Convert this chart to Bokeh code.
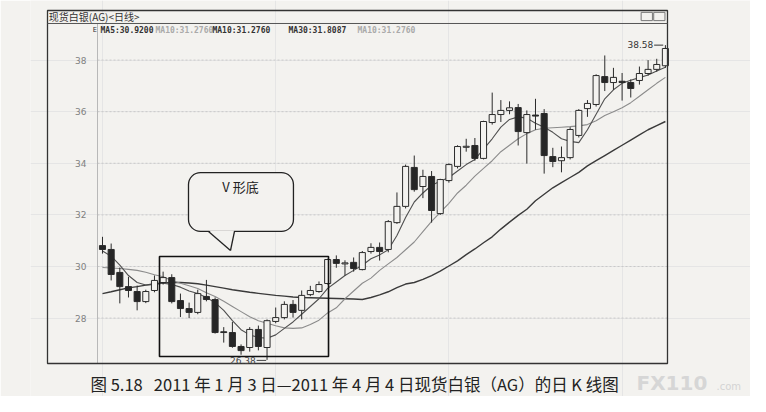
from bokeh.plotting import figure
from bokeh.models import (Range1d, LinearAxis, FixedTicker, Label, BoxAnnotation,
                          PolyAnnotation, Arrow, ColumnDataSource)
from bokeh.embed import file_html
from bokeh.resources import INLINE

# ---------------- data ----------------
day_index = list(range(66))  # trading days 2011-01-03 .. 2011-04-04

opens = [30.81, 30.66, 29.77, 29.22, 29.03, 28.64, 29.07, 29.38, 29.57, 28.68,
         28.37, 28.22, 28.84, 28.72, 27.47, 27.44, 26.90, 26.86, 27.56, 26.86,
         27.87, 28.02, 28.53, 28.30, 28.91, 29.03, 29.34, 30.27, 30.10, 30.16,
         29.88, 30.58, 30.74, 30.66, 31.70, 32.33, 33.84, 33.10, 33.49, 32.05,
         33.33, 33.88, 34.62, 34.69, 34.19, 35.58, 35.89, 36.05, 36.16, 35.19,
         35.87, 35.93, 34.26, 34.10, 34.22, 35.08, 36.12, 36.28, 37.36, 37.13,
         37.18, 37.13, 37.21, 37.48, 37.64, 37.78]
closes = [30.66, 29.69, 29.22, 29.07, 28.64, 29.03, 29.46, 29.57, 28.64, 28.37,
          28.22, 28.95, 28.72, 27.44, 27.44, 26.90, 26.74, 27.56, 26.90, 27.90,
          28.02, 28.53, 28.22, 28.88, 29.07, 29.30, 30.27, 30.12, 30.14, 29.92,
          30.54, 30.74, 30.58, 31.74, 32.33, 33.88, 32.98, 33.49, 32.17, 33.37,
          33.95, 34.65, 34.66, 34.19, 35.62, 35.89, 36.05, 36.15, 35.23, 35.89,
          35.83, 34.30, 34.07, 34.22, 35.31, 36.05, 36.32, 37.40, 37.13, 37.33,
          37.13, 36.90, 37.48, 37.64, 37.83, 38.45]
highs = [31.15, 30.89, 29.96, 29.60, 29.26, 29.10, 29.65, 29.80, 29.70, 28.95,
         28.60, 29.10, 29.48, 28.80, 27.65, 27.85, 26.98, 27.65, 27.71, 27.95,
         28.41, 28.65, 28.70, 29.07, 29.25, 29.42, 30.30, 30.43, 30.24, 30.35,
         30.60, 30.90, 30.93, 31.80, 32.87, 33.95, 34.30, 33.75, 33.70, 33.40,
         34.00, 34.70, 34.95, 34.98, 35.65, 36.74, 36.45, 36.40, 36.30, 36.05,
         36.50, 36.10, 34.60, 34.65, 35.40, 36.10, 36.45, 37.45, 38.18, 37.70,
         37.50, 37.25, 37.75, 38.00, 38.05, 38.58]
lows = [30.50, 29.46, 28.57, 28.80, 28.30, 28.58, 29.00, 29.30, 28.57, 28.04,
        28.00, 28.15, 28.65, 27.40, 27.05, 26.85, 26.58, 26.70, 26.75, 26.38,
        27.80, 27.95, 28.02, 27.95, 28.85, 28.98, 29.30, 29.95, 29.65, 29.80,
        29.85, 30.50, 30.23, 30.55, 31.65, 32.25, 32.90, 32.65, 31.70, 32.00,
        33.25, 33.80, 34.45, 34.10, 34.15, 35.50, 35.60, 35.90, 34.69, 33.99,
        35.30, 33.60, 33.85, 33.65, 34.15, 35.00, 35.80, 36.20, 36.80, 36.85,
        36.43, 36.55, 37.05, 37.40, 37.55, 37.70]

ma5 = [30.60, 30.40, 30.05, 29.65, 29.38, 29.28, 29.30, 29.35, 29.30, 29.20,
       29.05, 28.95, 28.80, 28.60, 28.30, 27.90, 27.55, 27.35, 27.25, 27.22,
       27.35, 27.60, 27.85, 28.15, 28.45, 28.75, 29.15, 29.40, 29.65, 29.85,
       30.05, 30.30, 30.45, 30.65, 31.20, 31.90, 32.50, 32.85, 33.15, 33.30,
       33.45, 33.70, 33.95, 34.15, 34.55, 34.95, 35.40, 35.70, 35.80, 35.75,
       35.55, 35.40, 35.20, 34.95, 34.85, 34.80, 35.30, 35.90, 36.50, 36.85,
       37.10, 37.22, 37.32, 37.42, 37.58, 37.72]
ma10 = [29.96, 29.94, 29.92, 29.89, 29.85, 29.78, 29.68, 29.60, 29.46, 29.35,
        29.25, 29.15, 28.98, 28.84, 28.65, 28.45, 28.25, 28.05, 27.90, 27.80,
        27.70, 27.62, 27.60, 27.62, 27.75, 27.92, 28.20, 28.40, 28.75, 29.05,
        29.35, 29.55, 29.85, 30.10, 30.35, 30.65, 30.95, 31.35, 31.75, 32.10,
        32.45, 32.85, 33.15, 33.50, 33.80, 34.10, 34.45, 34.70, 34.95, 35.15,
        35.30, 35.36, 35.38, 35.40, 35.42, 35.45, 35.50, 35.65, 35.85, 36.00,
        36.15, 36.35, 36.60, 36.85, 37.10, 37.33]
ma30 = [28.95, 29.02, 29.10, 29.17, 29.22, 29.28, 29.33, 29.36, 29.38, 29.38,
        29.36, 29.33, 29.28, 29.22, 29.16, 29.10, 29.05, 29.00, 28.96, 28.92,
        28.88, 28.85, 28.82, 28.80, 28.79, 28.78, 28.77, 28.76, 28.75, 28.74,
        28.72, 28.80, 28.90, 29.02, 29.18, 29.32, 29.38, 29.50, 29.65, 29.82,
        30.02, 30.22, 30.46, 30.68, 30.92, 31.15, 31.45, 31.72, 31.98, 32.22,
        32.55, 32.80, 33.05, 33.25, 33.45, 33.65, 33.90, 34.10, 34.30, 34.50,
        34.70, 34.90, 35.10, 35.30, 35.46, 35.62]

y_ticks = [28, 30, 32, 34, 36, 38]
low_label = "26.38"
high_label = "38.58"
legend_items = ["MA5:30.9200", "MA10:31.2760", "MA10:31.2760", "MA30:31.8087", "MA10:31.2760"]
title_text = "现货白银(AG)<日线>"
bubble_text = "V 形底"
caption = "图 5.18\u00a0\u00a0\u00a02011 年 1 月 3 日—2011 年 4 月 4 日现货白银（AG）的日 K 线图"

# ---------------- layout / styling ----------------
PAPER = "#f3f2ef"
INK = "#2b2b2b"
X_LEFT, X_RIGHT = -8.314, 74.827     # visible day-index span of the canvas frame
Y_BOT, Y_TOP = 24.961, 40.310        # visible price span of the canvas frame
BOX_L, BOX_R = -6.351, 65.242        # chart window edges (day units)
BOX_T, BOX_B = 39.922, 26.240        # chart window edges (price units)
AXIS_X = -0.577                      # where the price axis sits
BAR_Y = 39.419                       # title bar divider

up_idx = [i for i in day_index if closes[i] >= opens[i]]
dn_idx = [i for i in day_index if closes[i] < opens[i]]
src_up = ColumnDataSource(dict(x=up_idx,
                               top=[closes[i] for i in up_idx],
                               bottom=[opens[i] for i in up_idx]))
src_dn = ColumnDataSource(dict(x=dn_idx,
                               top=[opens[i] for i in dn_idx],
                               bottom=[closes[i] for i in dn_idx]))
src_all = ColumnDataSource(dict(x=day_index, high=highs, low=lows,
                                ma5=ma5, ma10=ma10, ma30=ma30))

p = figure(width=750, height=396,
           x_range=Range1d(X_LEFT, X_RIGHT), y_range=Range1d(Y_BOT, Y_TOP),
           output_backend="svg", toolbar_location=None,
           x_axis_location=None, y_axis_location=None,
           min_border_left=30, min_border_right=0,
           min_border_top=0, min_border_bottom=0)
p.background_fill_color = PAPER
p.border_fill_color = PAPER
p.outline_line_color = None

yaxis = LinearAxis(ticker=FixedTicker(ticks=y_ticks),
                   fixed_location=AXIS_X, bounds=(BOX_B, BAR_Y),
                   axis_line_color="#b8b8b8",
                   major_tick_line_color=None, minor_tick_line_color=None,
                   major_label_text_font="DejaVu Sans",
                   major_label_text_font_size="9px",
                   major_label_text_color="#808080",
                   major_label_standoff=5)
p.add_layout(yaxis, "left")

# dashed horizontal grid lines at the price ticks
p.segment(x0=[AXIS_X] * len(y_ticks), x1=[BOX_R] * len(y_ticks), y0=y_ticks, y1=y_ticks,
          line_color="#c9c9c9", line_dash="2 2", line_width=1)

# moving averages
p.line("x", "ma30", source=src_all, line_color="#3a3a3a", line_width=1.4)
p.line("x", "ma10", source=src_all, line_color="#8c8c8c", line_width=1.1)
p.line("x", "ma5", source=src_all, line_color="#505050", line_width=1.1)

# candles
p.segment(x0="x", y0="low", x1="x", y1="high", source=src_all,
          line_color=INK, line_width=1)
p.vbar(x="x", top="top", bottom="bottom", width=0.7, source=src_up,
       fill_color=PAPER, line_color=INK, line_width=1)
p.vbar(x="x", top="top", bottom="bottom", width=0.7, source=src_dn,
       fill_color="#262626", line_color=INK, line_width=1)

# chart window, title bar divider and window buttons
p.add_layout(PolyAnnotation(xs=[BOX_L, BOX_R, BOX_R, BOX_L], ys=[BOX_T, BOX_T, BOX_B, BOX_B],
                            fill_alpha=0, line_color="#333333", line_alpha=1, line_width=1.3))
p.add_layout(Arrow(start=None, end=None, x_start=BOX_L, y_start=BAR_Y, x_end=BOX_R, y_end=BAR_Y,
                   line_color="#555555", line_width=1))
p.add_layout(PolyAnnotation(xs=[62.2, 63.5, 63.5, 62.2], ys=[39.85, 39.85, 39.53, 39.53],
                            fill_alpha=0, line_color="#777777", line_alpha=1, line_width=1))
p.add_layout(PolyAnnotation(xs=[63.65, 64.95, 64.95, 63.65], ys=[39.85, 39.85, 39.53, 39.53],
                            fill_alpha=0, line_color="#777777", line_alpha=1, line_width=1))

p.add_layout(Label(x=-6.2, y=39.69, text=title_text, text_font="Noto Sans CJK SC",
                   text_font_size="10px", text_color="#333333", text_baseline="middle"))

# legend row
leg_x = [-0.23, 6.12, 12.7, 21.48, 29.45]
leg_col = ["#333333", "#a9a9a9", "#333333", "#333333", "#a9a9a9"]
p.add_layout(Label(x=-1.12, y=39.15, text="E", text_font="DejaVu Sans Mono",
                   text_font_size="7px", text_color="#333333", text_baseline="middle"))
for lx, lt, lc in zip(leg_x, legend_items, leg_col):
    p.add_layout(Label(x=lx, y=39.15, text=lt, text_font="DejaVu Sans Mono",
                       text_font_size="8px", text_font_style="bold",
                       text_color=lc, text_baseline="middle"))

# V-bottom box
p.add_layout(BoxAnnotation(left=6.58, right=26.1, top=30.39, bottom=26.51,
                           fill_alpha=0, line_color="#111111", line_alpha=1, line_width=1.6))

# callout bubble
p.add_layout(BoxAnnotation(left=9.93, right=22.05, top=33.64, bottom=31.36,
                           fill_color=PAPER, fill_alpha=1, line_color="#222222",
                           line_alpha=1, line_width=1.3, border_radius=12))
p.add_layout(PolyAnnotation(xs=[12.3, 14.78, 15.2], ys=[31.40, 30.62, 31.40],
                            fill_color=PAPER, fill_alpha=1, line_alpha=0))
p.add_layout(Arrow(start=None, end=None, x_start=12.24, y_start=31.36, x_end=14.78, y_end=30.62,
                   line_color="#222222", line_width=1.3))
p.add_layout(Arrow(start=None, end=None, x_start=15.24, y_start=31.36, x_end=14.78, y_end=30.62,
                   line_color="#222222", line_width=1.3))
p.add_layout(Label(x=15.94, y=33.10, text=bubble_text, text_font="Noto Sans CJK SC",
                   text_font_size="13px", text_color="#222222",
                   text_align="center", text_baseline="middle"))

# low / high labels
p.add_layout(Label(x=17.7, y=26.36, text=low_label, text_font="DejaVu Sans",
                   text_font_size="9px", text_color="#444444",
                   text_align="right", text_baseline="middle"))
p.add_layout(Arrow(start=None, end=None, x_start=17.8, y_start=26.36, x_end=18.9, y_end=26.36,
                   line_color="#444444", line_width=1))
p.add_layout(Label(x=63.6, y=38.60, text=high_label, text_font="DejaVu Sans",
                   text_font_size="9px", text_color="#333333",
                   text_align="right", text_baseline="middle"))
p.add_layout(Arrow(start=None, end=None, x_start=63.7, y_start=38.58, x_end=64.75, y_end=38.58,
                   line_color="#333333", line_width=1))

# caption and watermark
p.add_layout(Label(x=-1.386, y=25.45, text=caption, text_font="Noto Sans CJK SC",
                   text_font_size="16.5px", text_color="#222222",
                   text_align="left", text_baseline="middle"))
p.add_layout(Label(x=61.66, y=25.48, text="FX110", text_font="DejaVu Sans",
                   text_font_size="20px", text_font_style="bold", text_color="#d6d6d6",
                   text_baseline="middle"))
p.add_layout(Label(x=70.9, y=25.36, text=".com", text_font="DejaVu Sans",
                   text_font_size="10px", text_color="#d4d4d4",
                   text_baseline="middle"))

open("out.html", "w").write(file_html(p, INLINE))
